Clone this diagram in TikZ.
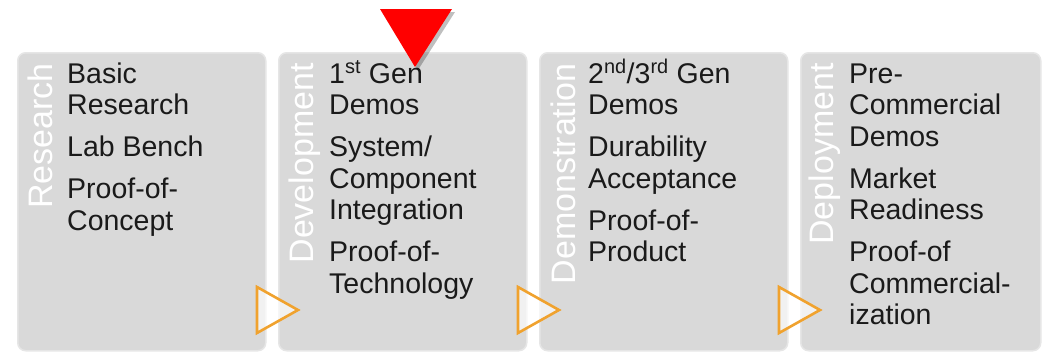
\documentclass[tikz,border=0pt]{standalone}
\usepackage{fontspec}
\setmainfont{Liberation Sans}
\definecolor{boxgray}{HTML}{D9D9D9}
\definecolor{boxedge}{HTML}{E6E6E6}
\definecolor{arroworange}{HTML}{F0A22E}
\definecolor{txt}{HTML}{1A1A1A}
\definecolor{marker}{HTML}{FF0000}
\begin{document}
\begin{tikzpicture}[x=1pt,y=-1pt,
  stage/.style={fill=boxgray, draw=boxedge, line width=1.5pt, rounded corners=8pt, anchor=north west, minimum height=298pt, inner sep=0pt},
  phase/.style={rotate=90, anchor=base east, inner sep=0pt, text=white, font=\fontsize{34}{36}\selectfont},
  items/.style={anchor=base west, inner sep=0pt, text=txt, font=\fontsize{28.5}{31.5}\selectfont},
  chev/.style={draw=arroworange, line width=2.6pt, fill=white, fill opacity=0.65, draw opacity=1, line join=miter}]
\useasboundingbox (0,0) rectangle (1044,351);
\fill[white] (0,0) rectangle (1044,351);
% stage boxes
\node[stage, minimum width=248pt] (s1) at (17,52) {};
\node[stage, minimum width=248pt] (s2) at (278,52) {};
\node[stage, minimum width=248pt] (s3) at (539,52) {};
\node[stage, minimum width=240pt] (s4) at (800,52) {};
% vertical phase labels
\node[phase] (p1) at (52,63) {Research};
\node[phase] (p2) at (313,63) {Development};
\node[phase] (p3) at (575,63) {Demonstration};
\node[phase] (p4) at (833,63) {Deployment};
% item texts
\node[items] (t1) at (67,83) {\parbox[t]{190pt}{\raggedright
  Basic\\Research\\[10.5pt]Lab Bench\\[10.5pt]Proof-of-\\Concept}};
\node[items] (t2) at (329,83) {\parbox[t]{190pt}{\raggedright
  1\textsuperscript{st} Gen\\Demos\\[10.5pt]System/\\Component\\Integration\\[10.5pt]Proof-of-\\Technology}};
\node[items] (t3) at (588,83) {\parbox[t]{190pt}{\raggedright
  2\textsuperscript{nd}/3\textsuperscript{rd} Gen\\Demos\\[10.5pt]Durability\\Acceptance\\[10.5pt]Proof-of-\\Product}};
\node[items] (t4) at (849,83) {\parbox[t]{190pt}{\raggedright
  Pre-\\Commercial\\Demos\\[10.5pt]Market\\Readiness\\[10.5pt]Proof-of\\Commercial-\\ization}};
% orange chevrons between stages
\foreach \r in {265,526,787}{
  \draw[chev] (\r-8,287) -- (\r+33,310) -- (\r-8,333) -- cycle;
}
% red marker triangle with shadow
\fill[black, opacity=0.25] (383,12) -- (455,12) -- (418,70) -- cycle;
\fill[marker] (380,9) -- (452,9) -- (415,67) -- cycle;
\end{tikzpicture}
\end{document}
